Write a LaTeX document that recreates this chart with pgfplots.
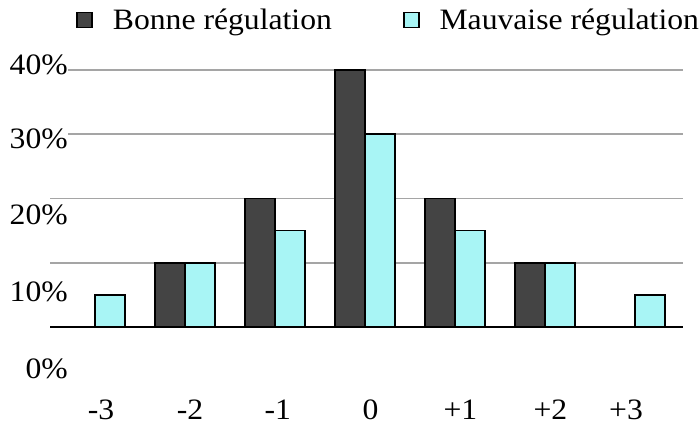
\documentclass[border=0pt]{standalone}
\usepackage{fontspec}
\setmainfont{Liberation Serif}[FakeStretch=1.07]
\usepackage{pgfplots}
\pgfplotsset{compat=1.18}

\definecolor{bonne}{RGB}{68,68,68}
\definecolor{mauvaise}{RGB}{168,245,245}
\definecolor{grille}{RGB}{165,165,165}

\begin{document}
\begin{tikzpicture}[font=\fontsize{29.6pt}{34pt}\selectfont]
\useasboundingbox (-50pt,0pt) rectangle (650pt,425pt);
\begin{axis}[
    scale only axis,
    width=633pt, height=364.6pt,
    xmin=-0.5, xmax=6.533,
    ymin=-15.25, ymax=41.5,
    ybar=0pt, bar width=30pt,
    axis line style={draw=none},
    major tick length=0pt,
    ytick={10,20,30,40},
    yticklabels={},
    ymajorgrids=true,
    major grid style={grille, line width=1.6pt},
    % the labels stand where the original put them, not on the grid lines
    extra y ticks={40.8,29.3,17.4,5.4,-6.5},
    extra y tick labels={40\%,30\%,20\%,10\%,0\%},
    extra y tick style={ymajorgrids=false,
        yticklabel style={anchor=east, inner sep=0pt, xshift=18pt, fill=white}},
    xtick={0.067,1.056,2.03,3.06,4.06,5.06,5.9},
    xticklabels={-3,-2,-1,0,+1,+2,+3},
    xticklabel style={anchor=center, inner sep=0pt, yshift=15pt},
    legend columns=2,
    legend style={at={(rel axis cs:0.535,1.111)}, anchor=center,
        draw=none, fill=none, inner sep=0pt,
        column sep=18pt,
        /tikz/every even column/.append style={column sep=69pt}},
    legend image code/.code={
        \draw[#1, line width=1.6pt] (0pt,-7.5pt) rectangle (15pt,7.5pt);},
]
\addplot[fill=bonne, draw=black, line width=1.6pt, bar shift=-15pt]
    coordinates {(0,0) (1,10) (2,20) (3,40) (4,20) (5,10) (6,0)};
\addplot[fill=mauvaise, draw=black, line width=1.6pt, bar shift=15pt]
    coordinates {(0,5) (1,10) (2,15) (3,30) (4,15) (5,10) (6,5)};
\addplot[black, line width=1.6pt, forget plot, sharp plot]
    coordinates {(-0.5,0) (6.533,0)};
\legend{Bonne régulation, Mauvaise régulation}
\end{axis}
\end{tikzpicture}
\end{document}
